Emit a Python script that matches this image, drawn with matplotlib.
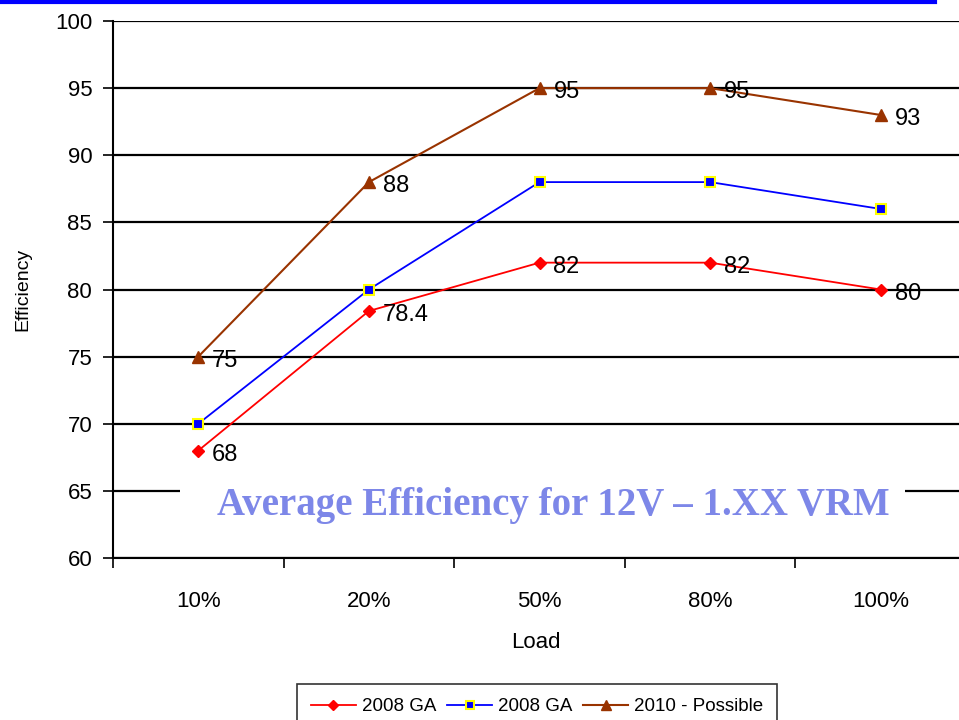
import matplotlib
matplotlib.use("Agg")
import matplotlib.pyplot as plt
from matplotlib.lines import Line2D
import matplotlib.ticker as mticker

categories = ["10%", "20%", "50%", "80%", "100%"]
red_2008 = [68, 78.4, 82, 82, 80]
blue_2008 = [70, 80, 88, 88, 86]
brown_2010 = [75, 88, 95, 95, 93]
red_labels = ["68", "78.4", "82", "82", "80"]
brown_labels = ["75", "88", "95", "95", "93"]
y_ticks = [60, 65, 70, 75, 80, 85, 90, 95, 100]

plt.rcParams['font.family'] = ['Liberation Sans', 'DejaVu Sans']

W, H = 959, 720
fig = plt.figure(figsize=(W / 100, H / 100), dpi=100)
left_px, right_px, top_px, bot_px = 113, 966, 21, 558
cat_w = (right_px - left_px) / 5.0
ax = fig.add_axes([left_px / W, 1 - bot_px / H, (W - left_px) / W, (bot_px - top_px) / H])
x = list(range(len(categories)))
ax.set_xlim(-0.5, -0.5 + (W - left_px) / cat_w)
ax.set_ylim(60, 100)

for s in ["top", "right"]:
    ax.spines[s].set_visible(False)
for s in ["left", "bottom"]:
    ax.spines[s].set_linewidth(1.5)
    ax.spines[s].set_color("black")

ax.set_yticks(y_ticks)
ax.yaxis.grid(True, color="black", linewidth=1.6)
ax.set_axisbelow(True)
ax.tick_params(axis="y", direction="out", length=7, width=1.2, pad=8, labelsize=16)
ax.set_xticks(x)
ax.set_xticklabels(categories)
ax.xaxis.set_minor_locator(mticker.FixedLocator([i - 0.5 for i in range(0, 6)]))
ax.tick_params(axis="x", which="major", length=0, pad=24, labelsize=16)
ax.tick_params(axis="x", which="minor", direction="out", length=7, width=1.2)

ax.set_ylabel("Efficiency", fontsize=14, labelpad=17)
ax.set_xlabel("Load", fontsize=16, labelpad=14)

# white box behind the title text (covers the 65 gridline)
ax.axhspan(62.6, 67.2, xmin=(180 - left_px) / (W - left_px), xmax=(905 - left_px) / (W - left_px),
           color="white", zorder=1.5, linewidth=0)
ax.text((225 + 882) / 2.0 / W, 1 - 506 / H, "Average Efficiency for 12V \u2013 1.XX VRM",
        transform=fig.transFigure, ha="center", va="center",
        family=["Liberation Serif", "DejaVu Serif"],
        fontweight="bold", fontsize=28, color="#7D87E8", zorder=3)

l1, = ax.plot(x, red_2008, color="#FF0000", linewidth=1.3, marker="D", markersize=6,
              markerfacecolor="#FF0000", markeredgecolor="#FF0000", zorder=4)
l2, = ax.plot(x, blue_2008, color="#0000FF", linewidth=1.3, marker="s", markersize=7,
              markerfacecolor="#0000FF", markeredgecolor="#FFFF00", markeredgewidth=1.5, zorder=4)
l3, = ax.plot(x, brown_2010, color="#993300", linewidth=1.5, marker="^", markersize=9,
              markerfacecolor="#993300", markeredgecolor="#993300", zorder=4)

for xi, yi, lab in zip(x, red_2008, red_labels):
    ax.annotate(lab, (xi, yi), xytext=(10, -3), textcoords="offset points",
                ha="left", va="center", fontsize=17, color="black", zorder=5)
for xi, yi, lab in zip(x, brown_2010, brown_labels):
    ax.annotate(lab, (xi, yi), xytext=(10, -3), textcoords="offset points",
                ha="left", va="center", fontsize=17, color="black", zorder=5)

# blue rule at top of slide
fig.add_artist(Line2D([0, 935 / W], [1 - 2 / H, 1 - 2 / H], color="#0000FF", linewidth=3,
                      transform=fig.transFigure))

leg = fig.legend([l1, l2, l3], ["2008 GA", "2008 GA", "2010 - Possible"],
                 loc="upper center", bbox_to_anchor=(537 / W, 1 - 684 / H), ncol=3,
                 fontsize=13.5, frameon=True, fancybox=False, edgecolor="black",
                 handlelength=2.4, columnspacing=0.6, handletextpad=0.3,
                 borderpad=0.75, borderaxespad=0, markerscale=0.8)
leg.get_frame().set_linewidth(1.2)

fig.savefig("out.png", dpi=100)
